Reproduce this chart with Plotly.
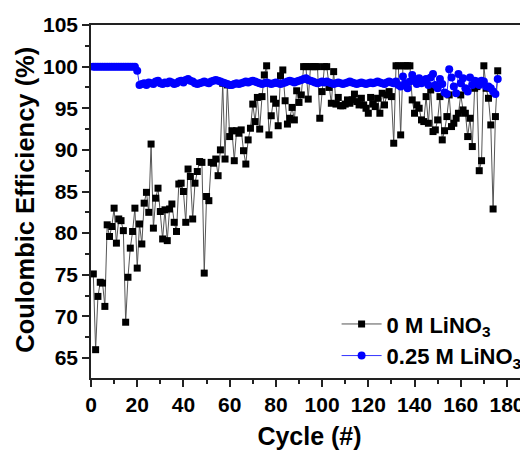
import plotly.graph_objects as go

cycles = list(range(1, 177))

ce_0M = [
    75.1, 66.0, 72.4, 74.1, 74.0, 71.2, 81.0, 79.6, 80.8, 83.0,
    78.8, 81.7, 81.5, 80.3, 69.3, 74.7, 78.2, 80.2, 83.0, 75.8,
    81.1, 78.7, 83.6, 84.9, 82.5, 90.7, 80.6, 84.2, 85.4, 82.6,
    79.3, 82.8, 79.1, 82.9, 83.5, 81.3, 80.2, 85.9, 86.0, 85.0,
    81.3, 87.7, 86.8, 81.7, 86.0, 87.4, 88.6, 88.5, 75.2, 84.4,
    83.9, 88.5, 88.4, 88.9, 86.9, 90.0, 98.0, 88.9, 97.8, 91.6,
    92.3, 88.7, 92.3, 92.0, 92.4, 89.9, 88.3, 91.2, 92.6, 95.5,
    93.4, 96.3, 92.5, 96.4, 99.0, 100.1, 91.8, 94.1, 96.1, 95.6,
    92.9, 98.9, 99.6, 95.9, 93.1, 93.8, 95.1, 93.6, 97.1, 95.7,
    96.6, 100.0, 100.0, 96.1, 100.0, 100.0, 100.0, 100.0, 93.8, 97.0,
    100.0, 100.0, 97.5, 95.6, 99.4, 95.5, 96.3, 95.3, 95.3, 95.5,
    96.0, 95.6, 96.0, 96.7, 95.8, 95.4, 96.2, 95.4, 95.0, 94.4,
    96.3, 95.5, 95.2, 96.2, 94.4, 96.8, 95.4, 96.6, 97.0, 96.4,
    90.8, 100.1, 100.1, 91.8, 100.1, 100.1, 100.1, 100.1, 96.0, 94.4,
    95.4, 95.0, 93.6, 93.4, 96.4, 93.2, 97.2, 92.2, 92.4, 93.6,
    96.4, 91.2, 92.3, 94.0, 96.6, 92.8, 93.2, 93.8, 94.4, 96.6,
    94.8, 94.4, 91.6, 93.8, 90.4, 97.4, 97.6, 87.5, 88.7, 100.1,
    97.4, 96.2, 93.0, 82.9, 94.0, 99.5,
]

ce_025M = [
    100.0, 100.0, 100.0, 100.0, 100.0, 100.0, 100.0, 100.0, 100.0, 100.0,
    100.0, 100.0, 100.0, 100.0, 100.0, 100.0, 100.0, 100.0, 100.0, 99.5,
    97.8, 97.9, 98.0, 97.8, 98.1, 98.0, 97.9, 98.2, 98.3, 98.0,
    97.9, 98.1, 98.0, 98.2, 98.1, 97.9, 98.0, 98.2, 98.3, 98.1,
    98.4, 98.5, 98.3, 98.2, 98.0, 97.9, 98.0, 98.1, 98.2, 98.1,
    98.0, 98.2, 98.3, 98.4, 98.3, 98.2, 98.1, 98.0, 97.9, 97.8,
    97.8, 97.9, 98.0, 97.9, 98.0, 98.1, 98.2, 98.1, 98.2, 98.3,
    98.2, 98.1, 98.0, 97.9, 98.0, 98.1, 98.0, 97.9, 98.0, 98.1,
    98.0, 97.9, 98.0, 98.1, 98.2, 98.3, 98.2, 98.1, 98.2, 98.3,
    98.4, 98.5, 98.6, 98.4, 98.3, 98.2, 98.1, 98.0, 98.1, 98.2,
    98.1, 98.2, 98.1, 98.0, 97.9, 98.0, 98.1, 98.0, 97.9, 98.0,
    98.1, 98.2, 98.1, 98.0, 97.9, 98.0, 98.1, 98.0, 97.9, 98.0,
    98.1, 98.0, 98.1, 98.2, 98.1, 98.0, 97.9, 98.1, 98.2, 98.1,
    98.0, 98.2, 97.8, 97.6, 98.8, 98.0, 97.4, 98.2, 99.0, 98.3,
    97.9, 98.6, 98.0, 98.2, 98.5, 97.8, 98.7, 99.1, 97.8, 97.4,
    98.5, 97.9, 96.9, 96.7, 99.7, 98.7, 97.6, 96.8, 99.1, 98.0,
    98.6, 97.4, 97.0, 98.7, 97.8, 98.3, 98.2, 97.8, 98.3, 98.2,
    97.6, 97.6, 97.4, 97.0, 96.7, 98.5,
]

x_ticks = [0, 20, 40, 60, 80, 100, 120, 140, 160, 180]
y_ticks = [65, 70, 75, 80, 85, 90, 95, 100, 105]
y_title = "Coulombic Efficiency (%)"
x_title = "Cycle (#)"

FONT = "Liberation Sans, Arial, sans-serif"

fig = go.Figure()
fig.add_trace(go.Scatter(
    x=cycles, y=ce_0M, mode="lines+markers",
    name="0 M LiNO<sub>3</sub>",
    line=dict(color="#555555", width=1),
    marker=dict(symbol="square", size=7, color="black"),
))
fig.add_trace(go.Scatter(
    x=cycles, y=ce_025M, mode="lines+markers",
    name="0.25 M LiNO<sub>3</sub>",
    line=dict(color="#3333ff", width=1),
    marker=dict(symbol="circle", size=8, color="#0000ff"),
))

# the page body adds an 8 px offset, so the figure is 8 px smaller
fig.update_layout(
    width=520, height=442,
    margin=dict(l=83, r=0, t=17, b=72),
    paper_bgcolor="white", plot_bgcolor="white",
    font=dict(family=FONT, color="black"),
    showlegend=True,
    legend=dict(
        x=0.562, y=0.212, xanchor="left", yanchor="top",
        bgcolor="rgba(0,0,0,0)",
        font=dict(family=FONT, size=22, color="black", weight="bold"),
        itemwidth=40, tracegroupgap=0,
    ),
    annotations=[dict(
        text=y_title, xref="paper", yref="paper", x=-0.151, y=0.505,
        xanchor="center", yanchor="middle", textangle=-90, showarrow=False,
        font=dict(family=FONT, size=25.5, color="black", weight="bold"),
    )],
)
fig.update_xaxes(
    range=[0, 189.1], tickvals=x_ticks, ticktext=[str(v) for v in x_ticks],
    ticks="outside", ticklen=7, tickwidth=1.5, tickcolor="#222",
    minor=dict(dtick=10, tick0=0, ticks="outside", ticklen=4, tickwidth=1.5, tickcolor="#222"),
    showline=True, linecolor="#222", linewidth=1.5, mirror=True,
    showgrid=False, zeroline=False,
    tickfont=dict(family=FONT, size=21, color="black", weight="bold"),
    title=dict(text=x_title, standoff=14,
               font=dict(family=FONT, size=25, color="black", weight="bold")),
)
fig.update_yaxes(
    range=[62.6, 105], tickvals=y_ticks, ticktext=[str(v) for v in y_ticks],
    ticks="outside", ticklen=7, tickwidth=1.5, tickcolor="#222",
    minor=dict(dtick=2.5, tick0=65, ticks="outside", ticklen=4, tickwidth=1.5, tickcolor="#222"),
    showline=True, linecolor="#222", linewidth=1.5, mirror=False,
    showgrid=False, zeroline=False,
    tickfont=dict(family=FONT, size=21, color="black", weight="bold"),
)

fig.write_html("out.html")
